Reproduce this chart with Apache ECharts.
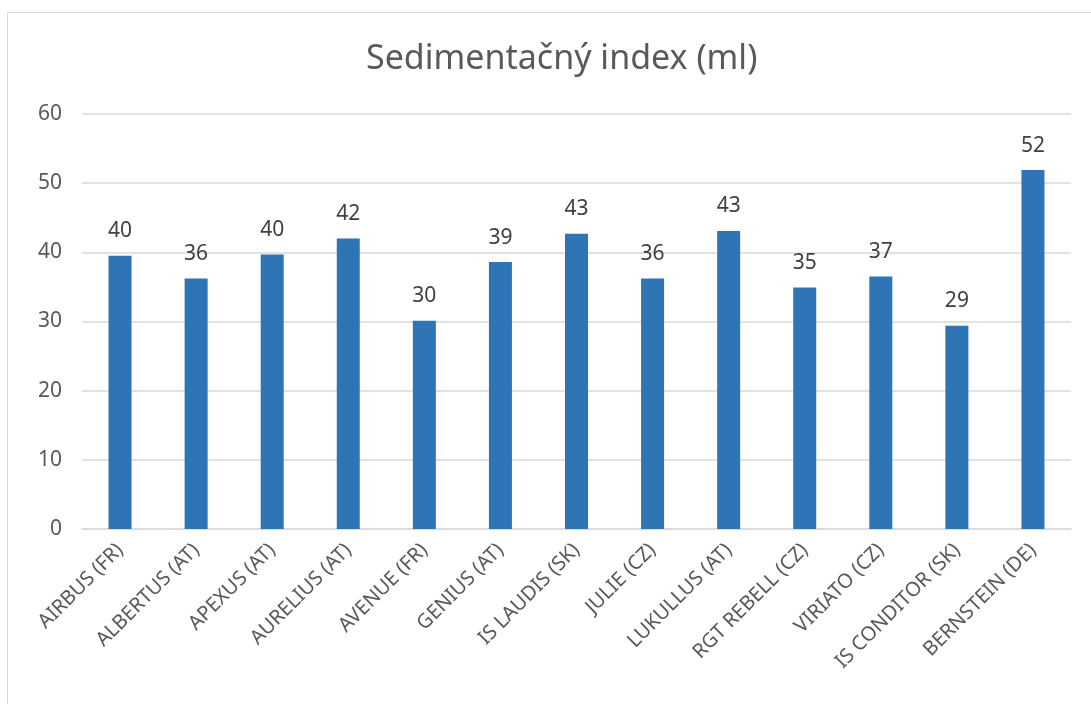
<!DOCTYPE html>
<html lang="sk">

<head>
    <meta charset="UTF-8">
    <title>Sedimentačný index</title>
    <style>
        html, body {
            margin: 0;
            padding: 0;
            background: #fff;
        }

        #frame {
            position: absolute;
            left: 7px;
            top: 12px;
            width: 1200px;
            height: 800px;
            border: 1px solid #d9d9d9;
        }

        #myEcharts {
            position: absolute;
            left: 0;
            top: 0;
            width: 1091px;
            height: 704px;
        }
    </style>
    <script src="https://cdn.jsdelivr.net/npm/echarts@6/dist/echarts.min.js"></script>
</head>

<body>
    <div id="frame"></div>
    <div id="myEcharts"></div>

    <script>
        // odrody
        var varieties = ['AIRBUS (FR)', 'ALBERTUS (AT)', 'APEXUS (AT)', 'AURELIUS (AT)', 'AVENUE (FR)',
            'GENIUS (AT)', 'IS LAUDIS (SK)', 'JULIE (CZ)', 'LUKULLUS (AT)', 'RGT REBELL (CZ)',
            'VIRIATO (CZ)', 'IS CONDITOR (SK)', 'BERNSTEIN (DE)'];
        // sedimentačný index (ml)
        var sediment = [39.5, 36.2, 39.7, 42.0, 30.1, 38.6, 42.7, 36.2, 43.1, 34.9, 36.5, 29.4, 51.9];
        var yTicks = [0, 10, 20, 30, 40, 50, 60];

        var font = 'Noto Sans';
        var myChart = echarts.init(document.getElementById('myEcharts'));

        var option = {
            animation: false,
            title: {
                text: 'Sedimentačný index (ml)',
                left: 361,
                top: 37,
                textStyle: {
                    fontFamily: font,
                    fontSize: 34,
                    fontWeight: 'normal',
                    color: '#595959'
                }
            },
            grid: {
                left: 82,
                right: 20,
                top: 114,
                bottom: 175,
                containLabel: false
            },
            xAxis: {
                type: 'category',
                data: varieties,
                axisTick: { show: false },
                axisLine: { lineStyle: { color: '#d9d9d9', width: 1.5 } },
                axisLabel: {
                    interval: 0,
                    rotate: 45,
                    margin: 18,
                    fontFamily: font,
                    fontSize: 20,
                    color: '#595959'
                }
            },
            yAxis: {
                type: 'value',
                min: yTicks[0],
                max: yTicks[yTicks.length - 1],
                interval: 10,
                axisLine: { show: false },
                axisTick: { show: false },
                splitLine: { lineStyle: { color: '#d9d9d9', width: 1.5 } },
                axisLabel: {
                    margin: 20,
                    fontFamily: font,
                    fontSize: 21,
                    color: '#595959'
                }
            },
            series: [
                {
                    name: 'Sedimentačný index',
                    type: 'bar',
                    data: sediment,
                    barWidth: 23,
                    itemStyle: { color: '#2E75B6' },
                    label: {
                        show: true,
                        position: 'top',
                        distance: 14,
                        fontFamily: font,
                        fontSize: 21,
                        color: '#404040',
                        formatter: function (p) { return Math.round(p.value); }
                    }
                }
            ]
        };

        myChart.setOption(option);
    </script>
</body>

</html>
